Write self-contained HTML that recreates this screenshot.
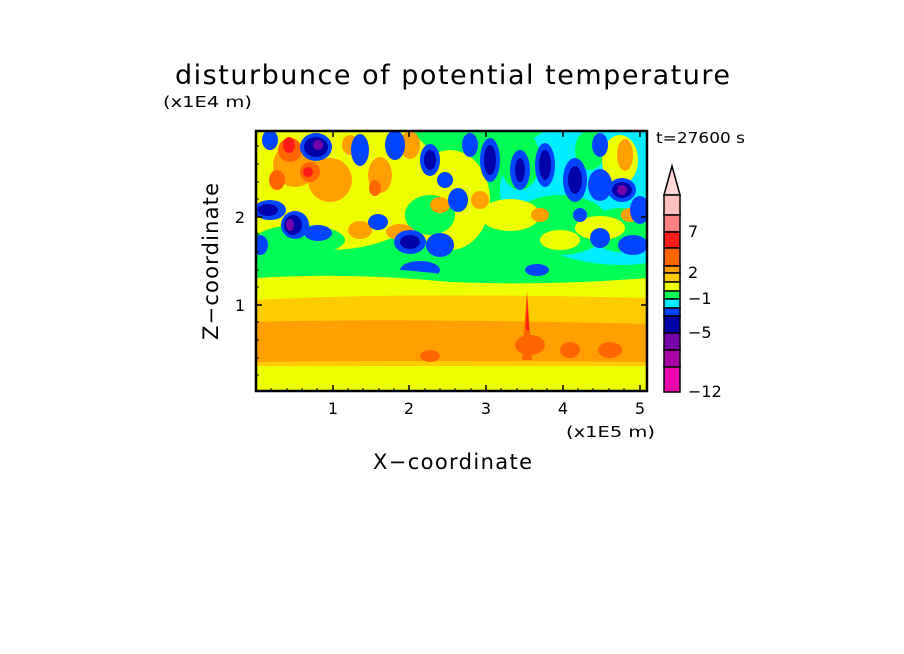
<!DOCTYPE html>
<html><head><style>body{margin:0;background:#fff}svg{display:block}text{font-family:"DejaVu Sans","Liberation Sans",sans-serif;fill:#000}</style></head>
<body>
<svg width="904" height="654" viewBox="0 0 904 654" xmlns="http://www.w3.org/2000/svg">
<defs><clipPath id="c"><rect x="256" y="131" width="391" height="260"/></clipPath></defs>
<text x="175" y="84" font-size="27" textLength="555" lengthAdjust="spacing">disturbunce of potential temperature</text>
<text x="163" y="107" font-size="15" textLength="89" lengthAdjust="spacingAndGlyphs">(x1E4 m)</text>
<text x="656" y="143" font-size="15" textLength="89" lengthAdjust="spacingAndGlyphs">t=27600 s</text>
<g clip-path="url(#c)">
<rect x="256" y="131" width="391" height="260" fill="#00ff55"/>
<ellipse cx="620" cy="190" rx="120" ry="75" fill="#00eeff"/>
<ellipse cx="330" cy="180" rx="110" ry="70" fill="#eeff00"/>
<ellipse cx="450" cy="200" rx="40" ry="50" fill="#eeff00"/>
<ellipse cx="560" cy="225" rx="50" ry="30" fill="#00ff55"/>
<g fill="#00ff55">
<ellipse cx="300" cy="240" rx="45" ry="15"/><ellipse cx="520" cy="160" rx="20" ry="30"/><ellipse cx="620" cy="230" rx="30" ry="22"/><ellipse cx="430" cy="215" rx="25" ry="20"/><ellipse cx="590" cy="150" rx="15" ry="20"/></g>
<g fill="#eeff00">
<ellipse cx="510" cy="215" rx="30" ry="16"/><ellipse cx="600" cy="228" rx="25" ry="12"/><ellipse cx="620" cy="160" rx="18" ry="25"/><ellipse cx="560" cy="240" rx="20" ry="10"/></g>
<g fill="#ffa000">
<ellipse cx="295" cy="165" rx="22" ry="22"/><ellipse cx="330" cy="180" rx="22" ry="22"/><ellipse cx="380" cy="175" rx="12" ry="18"/><ellipse cx="410" cy="145" rx="10" ry="14"/><ellipse cx="360" cy="230" rx="12" ry="9"/><ellipse cx="400" cy="232" rx="14" ry="8"/><ellipse cx="480" cy="200" rx="9" ry="9"/><ellipse cx="540" cy="215" rx="9" ry="7"/><ellipse cx="625" cy="155" rx="8" ry="16"/><ellipse cx="630" cy="215" rx="9" ry="7"/><ellipse cx="350" cy="145" rx="8" ry="10"/><ellipse cx="440" cy="205" rx="10" ry="8"/></g>
<g fill="#ff6600"><ellipse cx="290" cy="150" rx="12" ry="12"/><ellipse cx="310" cy="172" rx="10" ry="10"/><ellipse cx="277" cy="180" rx="8" ry="10"/><ellipse cx="375" cy="188" rx="6" ry="8"/></g>
<g fill="#ff1a1a"><ellipse cx="289" cy="145" rx="6" ry="8"/><ellipse cx="308" cy="172" rx="5" ry="5"/></g>
<g fill="#0044ff">
<ellipse cx="316" cy="147" rx="16" ry="14"/><ellipse cx="270" cy="210" rx="16" ry="10"/><ellipse cx="295" cy="225" rx="14" ry="14"/><ellipse cx="318" cy="233" rx="14" ry="8"/><ellipse cx="360" cy="150" rx="9" ry="16"/><ellipse cx="395" cy="145" rx="10" ry="15"/><ellipse cx="378" cy="222" rx="10" ry="8"/><ellipse cx="410" cy="242" rx="16" ry="12"/><ellipse cx="420" cy="270" rx="20" ry="9"/><ellipse cx="430" cy="160" rx="10" ry="16"/><ellipse cx="445" cy="180" rx="8" ry="8"/><ellipse cx="458" cy="200" rx="10" ry="12"/><ellipse cx="440" cy="245" rx="14" ry="12"/><ellipse cx="490" cy="160" rx="10" ry="22"/><ellipse cx="520" cy="170" rx="10" ry="20"/><ellipse cx="545" cy="165" rx="10" ry="22"/><ellipse cx="575" cy="180" rx="12" ry="22"/><ellipse cx="600" cy="185" rx="12" ry="16"/><ellipse cx="622" cy="190" rx="14" ry="12"/><ellipse cx="640" cy="210" rx="10" ry="14"/><ellipse cx="633" cy="245" rx="15" ry="10"/><ellipse cx="600" cy="238" rx="10" ry="10"/><ellipse cx="537" cy="270" rx="12" ry="6"/><ellipse cx="260" cy="245" rx="8" ry="10"/><ellipse cx="270" cy="140" rx="8" ry="10"/><ellipse cx="470" cy="145" rx="8" ry="12"/><ellipse cx="600" cy="145" rx="8" ry="12"/><ellipse cx="580" cy="215" rx="7" ry="7"/></g>
<g fill="#0000aa">
<ellipse cx="316" cy="147" rx="12" ry="10"/><ellipse cx="293" cy="225" rx="9" ry="10"/><ellipse cx="268" cy="210" rx="10" ry="6"/><ellipse cx="490" cy="160" rx="6" ry="15"/><ellipse cx="545" cy="165" rx="6" ry="15"/><ellipse cx="622" cy="190" rx="10" ry="8"/><ellipse cx="430" cy="160" rx="6" ry="10"/><ellipse cx="520" cy="170" rx="5" ry="12"/><ellipse cx="575" cy="180" rx="7" ry="14"/><ellipse cx="410" cy="242" rx="10" ry="7"/></g>
<g fill="#7700aa"><ellipse cx="290" cy="225" rx="4" ry="6"/><ellipse cx="622" cy="190" rx="5" ry="5"/><ellipse cx="318" cy="145" rx="5" ry="5"/></g>
<path d="M256 290 L256 272 Q350 262 450 275 Q550 282 647 270 L647 290Z" fill="#00ff55"/>
<path d="M256 290 L256 278 Q350 272 450 282 Q550 286 647 278 L647 290Z" fill="#eeff00"/>
<rect x="256" y="290" width="391" height="101" fill="#eeff00"/>
<path d="M256 300 Q400 292 647 298 L647 375 L256 375Z" fill="#ffcc00"/>
<path d="M256 322 Q400 318 647 324 L647 362 Q400 360 256 362Z" fill="#ffa000"/>
<rect x="256" y="366" width="391" height="12" fill="#eeff00"/>
<g fill="#ff6600"><ellipse cx="530" cy="345" rx="15" ry="10"/><ellipse cx="430" cy="356" rx="10" ry="6"/><ellipse cx="570" cy="350" rx="10" ry="8"/><ellipse cx="610" cy="350" rx="12" ry="8"/></g>
<path d="M522 360 L527 290 L532 360Z" fill="#ff6600"/>
<path d="M526 330 L527 295 L529 330Z" fill="#ff1a1a"/>
</g>
<rect x="256" y="131" width="391" height="260" fill="none" stroke="#000" stroke-width="2.5"/>
<g stroke="#000" stroke-width="1.5">
<path d="M333 391v-6M409 391v-6M486 391v-6M563 391v-6M640 391v-6M333 131v6M409 131v6M486 131v6M563 131v6M640 131v6M256 305h6M256 217h6M647 305h-6M647 217h-6"/>
</g>
<g stroke="#000" stroke-width="1">
<path d="M271 391v-3M287 391v-3M302 391v-3M317 391v-3M348 391v-3M363 391v-3M379 391v-3M394 391v-3M425 391v-3M440 391v-3M455 391v-3M471 391v-3M501 391v-3M517 391v-3M532 391v-3M547 391v-3M578 391v-3M593 391v-3M609 391v-3M624 391v-3M256 375h3M256 358h3M256 340h3M256 322h3M256 287h3M256 270h3M256 252h3M256 234h3M256 199h3M256 182h3M256 164h3M256 146h3"/>
</g>
<g font-size="16" text-anchor="middle"><text x="333" y="414">1</text><text x="409" y="414">2</text><text x="486" y="414">3</text><text x="563" y="414">4</text><text x="640" y="414">5</text></g>
<g font-size="16" text-anchor="end"><text x="245" y="311">1</text><text x="245" y="223">2</text></g>
<text x="566" y="437" font-size="15" textLength="89" lengthAdjust="spacingAndGlyphs">(x1E5 m)</text>
<text x="373" y="469" font-size="21" textLength="159" lengthAdjust="spacing">X−coordinate</text>
<text x="183" y="0" font-size="21" textLength="157" lengthAdjust="spacing" transform="translate(218 523) rotate(-90)">Z−coordinate</text>
<g stroke="#000" stroke-width="1.5">
<path d="M664 195 L672 166 L680 195Z" fill="#ffd8d8"/>
<rect x="664" y="195" width="16" height="20" fill="#ffc0c0"/>
<rect x="664" y="215" width="16" height="17" fill="#ff8080"/>
<rect x="664" y="232" width="16" height="16" fill="#ff1a1a"/>
<rect x="664" y="248" width="16" height="18" fill="#ff6600"/>
<rect x="664" y="266" width="16" height="7" fill="#ffa000"/>
<rect x="664" y="273" width="16" height="9" fill="#ffcc00"/>
<rect x="664" y="282" width="16" height="9" fill="#eeff00"/>
<rect x="664" y="291" width="16" height="8" fill="#00ff55"/>
<rect x="664" y="299" width="16" height="9" fill="#00eeff"/>
<rect x="664" y="308" width="16" height="8" fill="#0044ff"/>
<rect x="664" y="316" width="16" height="17" fill="#0000aa"/>
<rect x="664" y="333" width="16" height="17" fill="#7700aa"/>
<rect x="664" y="350" width="16" height="17" fill="#aa00aa"/>
<rect x="664" y="367" width="16" height="25" fill="#ee00aa"/>
</g>
<g font-size="16"><text x="688" y="237">7</text><text x="688" y="278">2</text><text x="688" y="304">−1</text><text x="688" y="338">−5</text><text x="688" y="397">−12</text></g>
</svg>
</body></html>
